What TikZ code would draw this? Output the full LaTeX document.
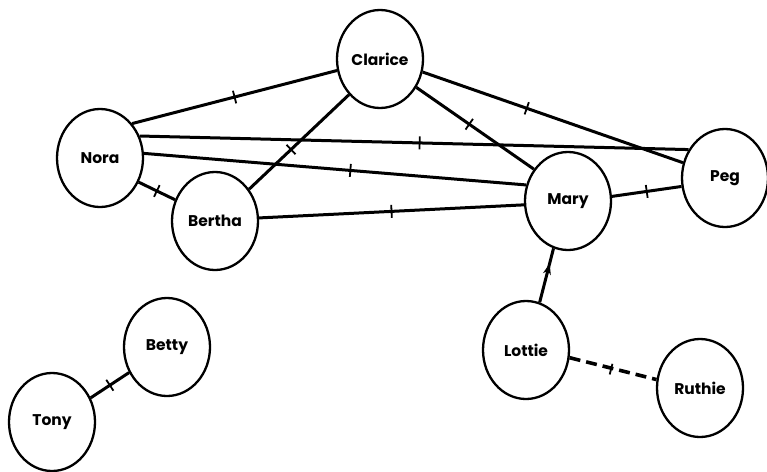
\documentclass[tikz,border=0pt]{standalone}
\usepackage{fontspec}
\setmainfont{Poppins}[BoldFont={* Bold}]
\usetikzlibrary{decorations.markings,arrows.meta,shapes.geometric}
\begin{document}
\begin{tikzpicture}[x=1pt,y=-1pt,
  person/.style={draw, line width=2.3pt, ellipse, minimum width=86pt, minimum height=98pt, inner sep=0pt,
    font=\fontsize{15.5}{17}\selectfont\bfseries},
  tie/.style={line width=3pt},
  tk/.style={postaction={decorate, decoration={markings,
     mark=at position #1 with {\draw[line width=1.8pt] (0,-6.5pt)--(0,6.5pt);}}}},
  tk/.default=0.5,
  midarrow/.style={postaction={decorate, decoration={markings,
     mark=at position #1 with {\arrow{Stealth[length=11pt,width=8pt]}}}}}
]
\useasboundingbox (0,0) rectangle (767,471);
\node[person] (clarice) at (380,59) {Clarice};
\node[person] (nora) at (100,158) {Nora};
\node[person] (bertha) at (215,221) {Bertha};
\node[person] (mary) at (568,201) {Mary};
\node[person] (peg) at (725,178) {Peg};
\node[person] (lottie) at (526,350) {Lottie};
\node[person] (ruthie) at (700,388) {Ruthie};
\node[person] (betty) at (167,347) {Betty};
\node[person] (tony) at (52,422) {Tony};

\draw[tie, tk] (nora.47) -- (clarice.195);
\draw[tie, tk=0.51] (nora.29) -- (peg.142);
\draw[tie, tk=0.54] (nora.6) -- (mary.159);
\draw[tie, tk] (nora.-32) -- (bertha.152);
\draw[tie, tk=0.42] (bertha.43) -- (clarice.229);
\draw[tie, tk] (bertha.4) -- (mary.185);
\draw[tie, tk=0.45] (clarice.-38) -- (mary.137);
\draw[tie, tk=0.4] (clarice.-17) -- (peg.160);
\draw[tie, tk] (mary.6) -- (peg.191);
\draw[tie, midarrow=0.72] (lottie.74) -- (mary.253);
\draw[tie, line width=3.6pt, dash pattern=on 11pt off 6pt, tk=0.48] (lottie.-10) -- (ruthie.169);
\draw[tie, tk] (tony.32) -- (betty.214);
\end{tikzpicture}
\end{document}
